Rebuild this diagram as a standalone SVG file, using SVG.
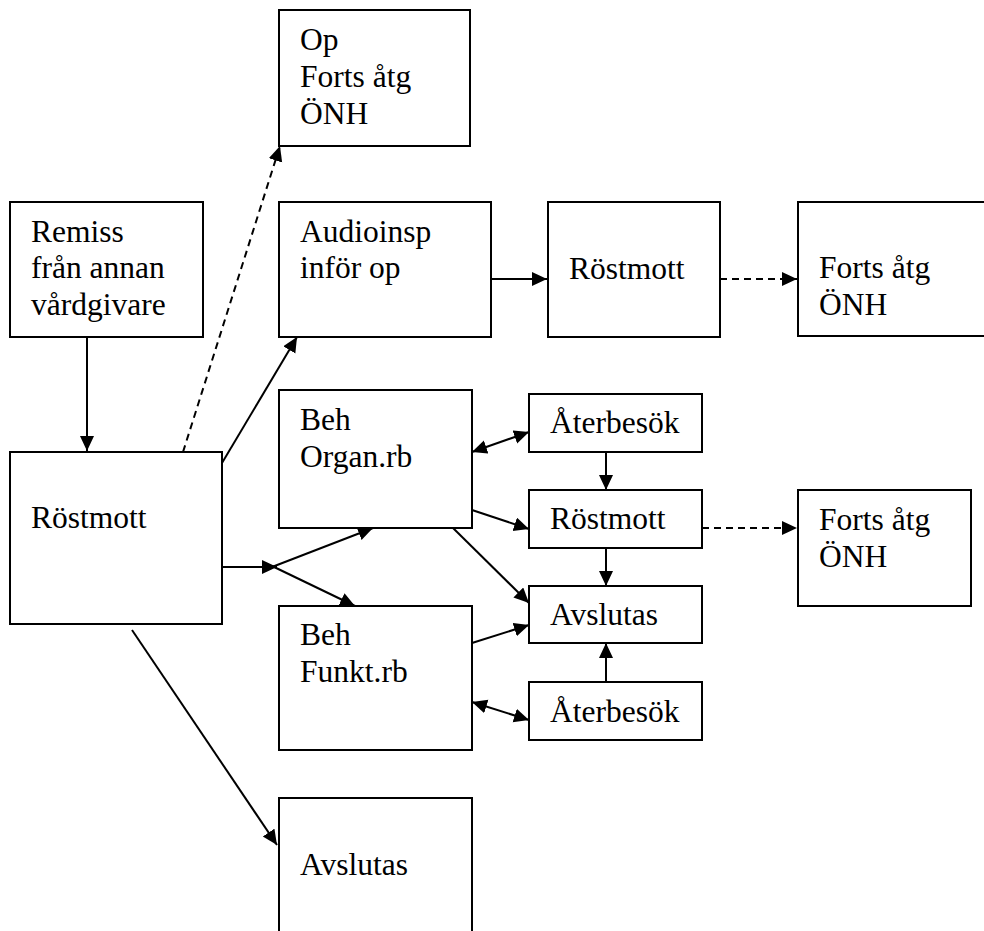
<svg xmlns="http://www.w3.org/2000/svg" width="984" height="931" viewBox="0 0 984 931">
<style>
.box{fill:#fff;stroke:#000;stroke-width:2}
.t{font-family:"Liberation Serif","Times New Roman","DejaVu Serif",serif;font-size:31.5px;fill:#000}
.c{fill:none;stroke:#000;stroke-width:2}
.d{stroke-dasharray:7 5}
.a{marker-end:url(#ah)}
.b{marker-start:url(#ah);marker-end:url(#ah)}
</style>
<defs>
<marker id="ah" markerUnits="userSpaceOnUse" markerWidth="17" markerHeight="15" refX="15" refY="7" orient="auto-start-reverse">
<path d="M0,0 L15,7 L0,14 z" fill="#000"/>
</marker>
</defs>
<rect width="984" height="931" fill="#fff"/>
<g id="connectors">
<line class="c a" x1="87" y1="337" x2="87" y2="451"/>
<line class="c d a" x1="183" y1="452" x2="280" y2="146"/>
<line class="c a" x1="222" y1="463" x2="297" y2="337"/>
<line class="c a" x1="491" y1="279" x2="547" y2="279"/>
<line class="c d a" x1="720" y1="279" x2="797" y2="279"/>
<line class="c a" x1="222" y1="567" x2="277" y2="567"/>
<line class="c a" x1="272" y1="567" x2="373" y2="528"/>
<line class="c a" x1="272" y1="566" x2="355" y2="606"/>
<line class="c a" x1="132" y1="630" x2="277" y2="845"/>
<line class="c b" x1="472" y1="452" x2="529" y2="432"/>
<line class="c a" x1="472" y1="510" x2="529" y2="529"/>
<line class="c a" x1="453" y1="528" x2="529" y2="603"/>
<line class="c a" x1="472" y1="643" x2="529" y2="625"/>
<line class="c b" x1="472" y1="702" x2="529" y2="720"/>
<line class="c a" x1="606" y1="452" x2="606" y2="490"/>
<line class="c d a" x1="702" y1="528" x2="797" y2="528"/>
<line class="c a" x1="606" y1="548" x2="606" y2="586"/>
<line class="c a" x1="606" y1="682" x2="606" y2="643"/>
</g>
<g id="op"><rect class="box" x="279" y="10" width="191" height="136"/>
<text class="t" x="300" y="50">Op</text><text class="t" x="300" y="87">Forts åtg</text><text class="t" x="300" y="124">ÖNH</text></g>
<g id="remiss"><rect class="box" x="10" y="202" width="193" height="135"/>
<text class="t" x="31" y="242">Remiss</text><text class="t" x="31" y="278">från annan</text><text class="t" x="31" y="315">vårdgivare</text></g>
<g id="audioinsp"><rect class="box" x="279" y="202" width="212" height="135"/>
<text class="t" x="300" y="242">Audioinsp</text><text class="t" x="300" y="278">inför op</text></g>
<g id="rostmott-mid"><rect class="box" x="548" y="202" width="172" height="135"/>
<text class="t" x="569" y="279">Röstmott</text></g>
<g id="forts1"><rect class="box" x="798" y="202" width="200" height="134"/>
<text class="t" x="819" y="278">Forts åtg</text><text class="t" x="819" y="315">ÖNH</text></g>
<g id="rostmott-big"><rect class="box" x="10" y="452" width="212" height="172"/>
<text class="t" x="31" y="528">Röstmott</text></g>
<g id="beh-organ"><rect class="box" x="279" y="390" width="193" height="138"/>
<text class="t" x="300" y="430">Beh</text><text class="t" x="300" y="467">Organ.rb</text></g>
<g id="aterbesok1"><rect class="box" x="529" y="394" width="173" height="58"/>
<text class="t" x="550" y="433">Återbesök</text></g>
<g id="rostmott-small"><rect class="box" x="529" y="490" width="173" height="58"/>
<text class="t" x="550" y="529">Röstmott</text></g>
<g id="forts2"><rect class="box" x="798" y="490" width="173" height="116"/>
<text class="t" x="819" y="530">Forts åtg</text><text class="t" x="819" y="567">ÖNH</text></g>
<g id="avslutas-small"><rect class="box" x="529" y="586" width="173" height="57"/>
<text class="t" x="550" y="625">Avslutas</text></g>
<g id="beh-funkt"><rect class="box" x="279" y="606" width="193" height="144"/>
<text class="t" x="300" y="645">Beh</text><text class="t" x="300" y="682">Funkt.rb</text></g>
<g id="aterbesok2"><rect class="box" x="529" y="682" width="173" height="58"/>
<text class="t" x="550" y="722">Återbesök</text></g>
<g id="avslutas-big"><rect class="box" x="279" y="798" width="193" height="150"/>
<text class="t" x="300" y="875">Avslutas</text></g>
</svg>
